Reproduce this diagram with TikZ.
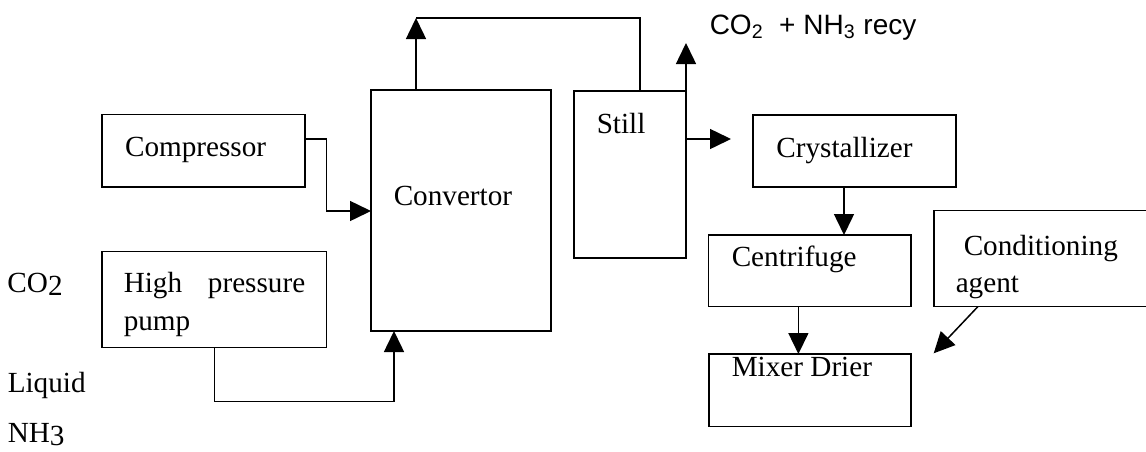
\documentclass[tikz,border=0pt]{standalone}
\usepackage{fontspec}
\setmainfont{Liberation Serif}
\newfontfamily\arialfont{Liberation Sans}
\usetikzlibrary{arrows.meta}
\begin{document}
\begin{tikzpicture}[x=0.5pt,y=-0.5pt,
  line width=0.75pt,
  box/.style={draw,rectangle,inner sep=0pt,outer sep=0pt,line width=0.75pt},
  txt/.style={inner sep=0pt,anchor=base west,font=\fontsize{14.6}{17}\selectfont},
  arr/.style={-{Triangle[length=10.5pt,width=10pt]}},
]
\useasboundingbox (0,0) rectangle (1146,451);
% boxes
\node[box,minimum width=101.5pt,minimum height=36.25pt] (comp) at (203.5,150.75) {};
\node[box,minimum width=112.35pt,minimum height=47.8pt] (pump) at (214.35,299.5) {};
\node[box,minimum width=90pt,minimum height=120.5pt] (conv) at (461,210.5) {};
\node[box,minimum width=56.1pt,minimum height=83.5pt] (still) at (629.9,174.5) {};
\node[box,minimum width=101.5pt,minimum height=36pt] (cryst) at (854.5,151) {};
\node[box,minimum width=101.15pt,minimum height=35.85pt] (centr) at (809.85,270.85) {};
\node[box,minimum width=101pt,minimum height=36.35pt] (mixer) at (810,390.35) {};
\begin{scope}
\clip (0,0) rectangle (1146,451);
\node[box,minimum width=113pt,minimum height=48.1pt] (cond) at (1046.85,258.6) {};
\end{scope}
% texts
\node[txt] (tcomp) at (124.3,156.7) {Compressor};
\node[txt] (tconv) at (393,205) {Convertor};
\node[txt] (tstill) at (596,133) {Still};
\node[txt] (tcryst) at (775.6,157) {Crystallizer};
\node[txt] (tcentr) at (731,266.7) {Centrifuge};
\node[txt] (tmixer) at (731,376.7) {Mixer Drier};
\node[txt] (tcond1) at (963,255) {Conditioning};
\node[txt] (tcond2) at (955,292) {agent};
\node[txt] (thigh) at (123,292.7) {High};
\node[txt,anchor=base east] (tpress) at (306,292.7) {pressure};
\node[txt] (tpump) at (123,330) {pump};
\node[txt] (tco2) at (6.7,292) {CO\raisebox{-1.5pt}{2}};
\node[txt] (tliq) at (7,392) {Liquid};
\node[txt] (tnh3) at (7,442) {NH\raisebox{-1.5pt}{3}};
\node[txt,font=\arialfont\fontsize{14}{17}\selectfont] (trecy) at (709,34.3) {CO\textsubscript{2}\ \ + NH\textsubscript{3} recy};
% connectors
\coordinate (topL) at (416,18);
\coordinate (recyTip) at (686,43);
\coordinate (condTip) at (933.7,353.3);
\draw[arr] (comp.east |- 0,139) -- (326.7,139) |- (conv.west |- 0,211);
\draw[arr] (pump.south -| 214.6,0) -- (214.6,401.7) -| (conv.south -| 394,0);
\draw[arr] (conv.north -| topL) -- (topL);
\draw (still.north -| 640,0) |- (topL);
\draw[arr] (still.south east) -- (recyTip);
\draw[arr] (still.east |- 0,139) -- (731,139);
\draw[arr] (cryst.south -| 844,0) -- (centr.north -| 844,0);
\draw[arr] (centr.south -| 798.4,0) -- (mixer.north -| 798.4,0);
\draw[arr] (cond.south -| 977.8,0) -- (condTip);
\end{tikzpicture}
\end{document}
